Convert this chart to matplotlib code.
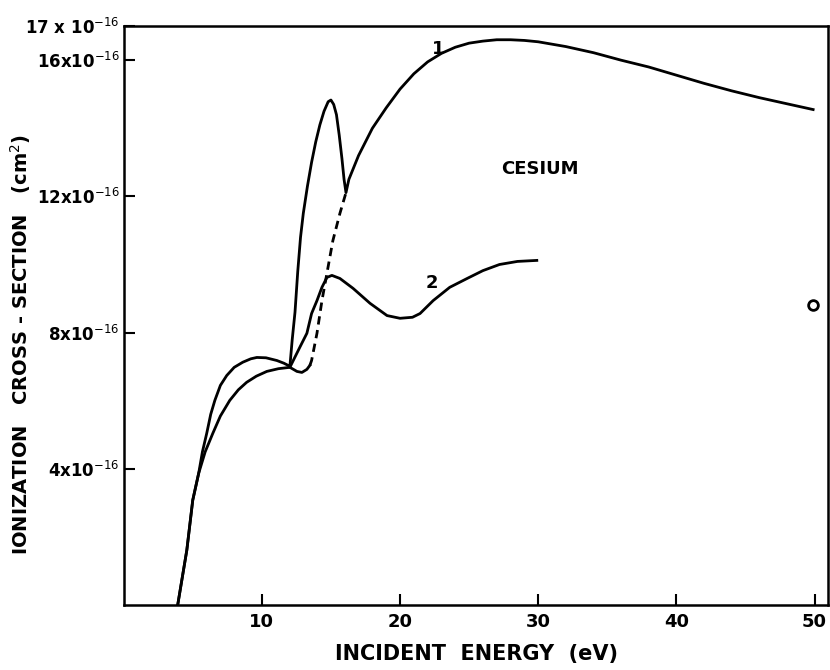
import matplotlib.pyplot as plt

# curve 1 (upper curve, sharp peak near 15 eV)
x1 = [3.91, 4.57, 5.0, 5.43, 5.7, 6.01, 6.3, 6.6, 7.0, 7.46, 8.0, 8.62, 9.2,
      9.64, 10.3, 11.09, 11.6, 12.03,
      12.2, 12.4, 12.6, 12.8, 13.0, 13.3, 13.6, 13.9, 14.2, 14.5, 14.8, 15.0,
      15.2, 15.4, 15.6, 15.8, 15.95, 16.09,
      16.3, 17.0, 18.0, 19.0, 20.0, 21.0, 22.0, 23.0, 24.0, 25.0, 26.0, 27.0,
      28.0, 29.0, 30.0, 32.0, 34.0, 36.0, 38.0, 40.0, 42.0, 44.0, 46.0, 48.0,
      49.9]
y1 = [0.0, 1.61, 3.08, 3.87, 4.5, 5.04, 5.6, 6.01, 6.45, 6.74, 6.98, 7.13, 7.23,
      7.27, 7.26, 7.18, 7.1, 7.01,
      7.8, 8.6, 9.8, 10.8, 11.5, 12.3, 13.0, 13.6, 14.1, 14.5, 14.78, 14.83,
      14.7, 14.4, 13.8, 13.1, 12.5, 12.11,
      12.5, 13.2, 14.0, 14.6, 15.15, 15.6, 15.95, 16.2, 16.38, 16.5, 16.56, 16.6,
      16.6, 16.58, 16.54, 16.4, 16.22, 16.0, 15.8, 15.56, 15.32, 15.1, 14.9, 14.72,
      14.55]

# curve 2 (lower curve)
x2 = [3.91, 4.57, 5.0, 5.43, 5.9, 6.45, 7.0, 7.68, 8.3, 8.9, 9.6, 10.36, 11.2,
      12.03, 12.75, 13.26, 13.6, 13.99, 14.35, 14.71, 15.07, 15.65, 16.6, 17.83,
      19.06, 20.0, 20.9, 21.45, 22.4, 23.6, 24.86, 26.0, 27.2, 28.5, 29.9]
y2 = [0.0, 1.61, 3.08, 3.87, 4.5, 5.04, 5.55, 6.01, 6.32, 6.54, 6.72, 6.86, 6.94,
      6.98, 7.57, 7.98, 8.56, 8.94, 9.33, 9.62, 9.68, 9.59, 9.3, 8.86,
      8.5, 8.42, 8.45, 8.56, 8.94, 9.33, 9.59, 9.82, 10.0, 10.09, 10.12]

# lower branch past the junction, then dashed to curve 1 minimum
x3 = [12.03, 12.54, 12.9, 13.26, 13.48]
y3 = [6.98, 6.86, 6.83, 6.92, 7.04]
x3d = [13.48, 13.6, 13.99, 14.35, 14.71, 15.14, 15.65, 16.09]
y3d = [7.04, 7.18, 7.98, 8.94, 9.74, 10.7, 11.5, 12.11]

# single measured point
xp = [49.9]
yp = [8.8]

yticks = [4, 8, 12, 16, 17]
ylabels = ['4x10$^{-16}$', '8x10$^{-16}$', '12x10$^{-16}$', '16x10$^{-16}$',
           '17 x 10$^{-16}$']
xticks = [10, 20, 30, 40, 50]

fig = plt.figure(figsize=(8.3, 6.7), dpi=100)
ax = fig.add_axes([0.149, 0.097, 0.849, 0.864])

ax.plot(x1, y1, color='black', lw=2)
ax.plot(x2, y2, color='black', lw=2)
ax.plot(x3, y3, color='black', lw=2)
ax.plot(x3d, y3d, color='black', lw=2, ls=(0, (3, 2)))
ax.plot(xp, yp, 'o', mfc='white', mec='black', mew=2, ms=7)

ax.text(22.75, 16.33, '1', fontsize=13, fontweight='bold', ha='center', va='center')
ax.text(22.3, 9.47, '2', fontsize=13, fontweight='bold', ha='center', va='center')
ax.text(30.1, 12.8, 'CESIUM', fontsize=13, fontweight='bold', ha='center', va='center')

ax.set_xlim(0, 51)
ax.set_ylim(0, 17)
ax.set_xticks(xticks)
ax.set_xticklabels([str(t) for t in xticks], fontsize=13, fontweight='bold')
ax.set_yticks(yticks)
ax.set_yticklabels(ylabels, fontsize=12, fontweight='bold')
ax.tick_params(direction='in', length=8, width=1.5)
ax.tick_params(axis='x', pad=6)
ax.tick_params(axis='y', pad=3)
for s in ax.spines.values():
    s.set_linewidth(1.8)

ax.set_xlabel('INCIDENT  ENERGY  (eV)', fontsize=15, fontweight='bold')
ax.xaxis.set_label_coords(0.5, -0.068)
ax.set_ylabel('IONIZATION   CROSS - SECTION   (cm$^2$)', fontsize=14,
              fontweight='bold')
ax.yaxis.set_label_coords(-0.128, 0.45)

fig.savefig('out.png', dpi=100)
